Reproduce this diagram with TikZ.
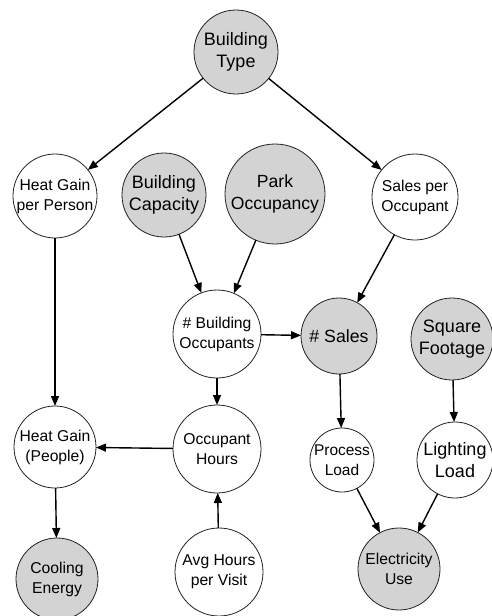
\documentclass[tikz,border=0pt]{standalone}
\usepackage{fontspec}
\setmainfont{Liberation Sans}
\usetikzlibrary{arrows.meta}
\definecolor{nodegray}{HTML}{D3D3D3}
\definecolor{rimcol}{HTML}{222222}
\tikzset{
  var/.style={circle, draw=rimcol, line width=0.8pt, inner sep=0pt, outer sep=0pt,
    align=center, fill=white, text=black},
  obs/.style={var, fill=nodegray},
  smalltext/.style={font=\fontsize{15.7}{20}\selectfont},
  bigtext/.style={font=\fontsize{18}{22}\selectfont},
  link/.style={line width=1.4pt, -{Triangle[length=10pt,width=8pt]}},
}
\begin{document}
\begin{tikzpicture}[x=1pt,y=-1pt]
\useasboundingbox (0,0) rectangle (491,616);
\fill[white] (0,0) rectangle (491,616);
% nodes
\node[obs, bigtext, minimum size=84pt] (bt) at (236,52) {Building\\Type};
\node[var, smalltext, minimum size=84pt] (hgpp) at (55,196) {Heat Gain\\per Person};
\node[obs, bigtext, minimum size=84pt] (bc) at (164,195) {Building\\Capacity};
\node[obs, bigtext, font=\fontsize{17.6}{22}\selectfont, minimum size=100pt] (po) at (275,194) {Park\\Occupancy};
\node[var, smalltext, minimum size=86pt] (spo) at (415,197) {Sales per\\Occupant};
\node[var, smalltext, minimum size=88pt] (bo) at (217,334) {\# Building\\Occupants};
\node[obs, bigtext, font=\fontsize{17.7}{22}\selectfont, minimum size=76pt] (sales) at (339,336) {\# Sales};
\node[obs, bigtext, minimum size=82pt] (sf) at (452,339) {Square\\Footage};
\node[var, smalltext, minimum size=82pt] (hgp) at (55,447) {Heat Gain\\(People)};
\node[var, smalltext, minimum size=88pt] (oh) at (217,449) {Occupant\\Hours};
\node[var, smalltext, font=\fontsize{15.5}{20}\selectfont, minimum size=64pt] (pl) at (342,460) {Process\\Load};
\node[var, bigtext, minimum size=76pt] (ll) at (455,460) {Lighting\\Load};
\node[obs, smalltext, minimum size=82pt] (ce) at (57,579) {Cooling\\Energy};
\node[var, smalltext, minimum size=88pt] (ahv) at (219,572) {Avg Hours\\per Visit};
\node[obs, smalltext, minimum size=82pt] (eu) at (399,569) {Electricity\\Use};
% edges
\draw[link] (bt) -- (hgpp);
\draw[link] (bt) -- (spo);
\draw[link] (hgpp) -- (hgp);
\draw[link] (bc) -- (bo);
\draw[link] (po) -- (bo);
\draw[link] (spo) -- (sales);
\draw[link] (bo) -- (sales);
\draw[link] (bo) -- (oh);
\draw[link] (oh) -- (hgp);
\draw[link] (ahv) -- (oh);
\draw[link] (hgp) -- (ce);
\draw[link] (sales) -- (pl);
\draw[link] (sf) -- (ll);
\draw[link] (pl) -- (eu);
\draw[link] (ll) -- (eu);
\end{tikzpicture}
\end{document}
